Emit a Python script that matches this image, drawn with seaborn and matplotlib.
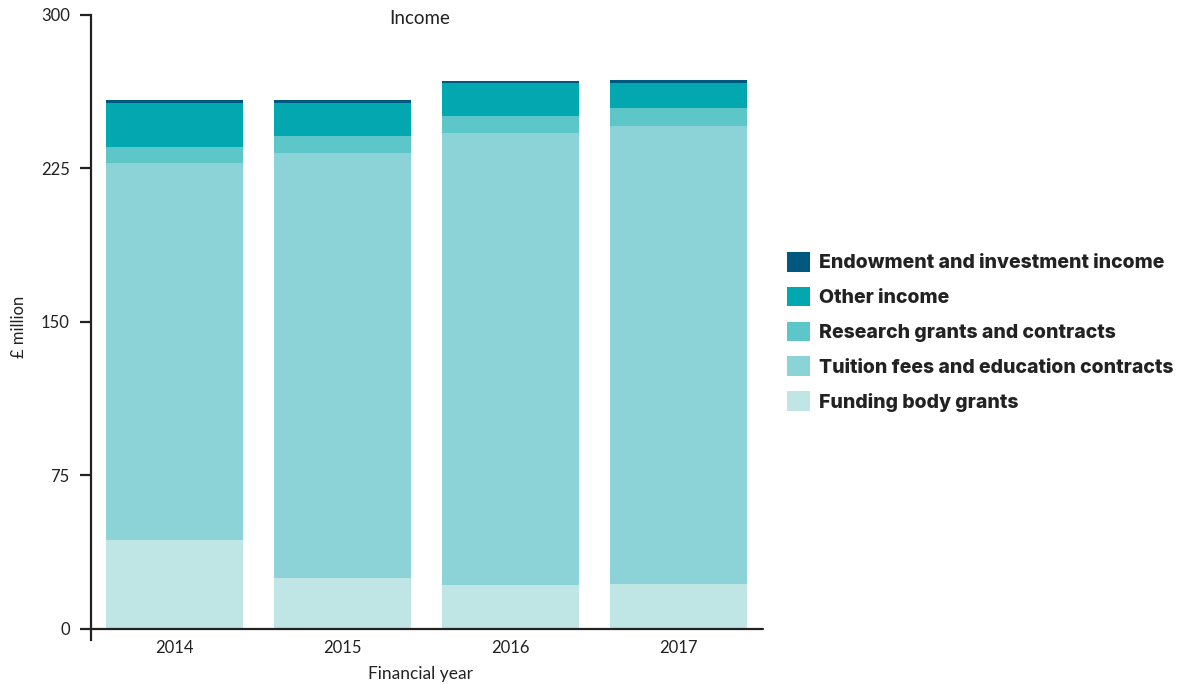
import matplotlib
matplotlib.use("Agg")
import matplotlib.pyplot as plt
from matplotlib.patches import Patch
import seaborn as sns
import numpy as np

# Income by source, £ million
years = ["2014", "2015", "2016", "2017"]
funding_body_grants = [43.2, 24.6, 21.2, 21.7]
tuition_fees = [184.3, 207.8, 221.0, 223.9]
research_grants = [7.8, 8.3, 8.3, 8.8]
other_income = [21.6, 16.2, 16.1, 12.2]
endowment_income = [1.5, 1.5, 1.0, 1.5]

series_names = [
    "Funding body grants",
    "Tuition fees and education contracts",
    "Research grants and contracts",
    "Other income",
    "Endowment and investment income",
]
series_values = [funding_body_grants, tuition_fees, research_grants,
                 other_income, endowment_income]
series_colors = ["#c0e5e5", "#8cd3d7", "#5dc6c9", "#03a7b0", "#00587f"]

y_ticks = [0, 75, 150, 225, 300]

sns.set_theme(style="white")
plt.rcParams["font.family"] = ["Lato", "DejaVu Sans"]

ink = "#222222"
fig = plt.figure(figsize=(11.84, 6.84), dpi=100)
ax = fig.add_axes([90.5 / 1184, 44 / 684, 672 / 1184, (640 - 14.7) / 684])

# Stacked bars: draw cumulative totals from the top layer down
cumulative = np.cumsum(np.array(series_values), axis=0)
for i in range(len(series_names) - 1, -1, -1):
    sns.barplot(x=years, y=cumulative[i], color=series_colors[i],
                saturation=1, width=0.815, linewidth=0, ax=ax)

ax.set_xlim(-0.5, 3.5)
ax.set_ylim(-5.6, 300)
ax.set_yticks(y_ticks)
ax.set_yticklabels([str(t) for t in y_ticks])

for side in ["top", "right", "bottom"]:
    ax.spines[side].set_visible(False)
ax.spines["left"].set_color(ink)
ax.spines["left"].set_linewidth(1.6)
ax.axhline(0, color=ink, linewidth=1.6, zorder=5, clip_on=False)

ax.tick_params(axis="y", which="both", left=True, length=8, width=1.6,
               color=ink, pad=7, labelsize=12, labelcolor=ink)
ax.tick_params(axis="x", which="both", bottom=False, length=0, pad=0,
               labelsize=12, labelcolor=ink)
ax.set_xlabel("")
ax.set_ylabel("£ million", fontsize=12, color=ink, labelpad=10)

fig.text(420 / 1184, 1 - 19 / 684, "Income", ha="center", va="center",
         fontsize=13.5, color=ink)
fig.text(420 / 1184, 1 - 674 / 684, "Financial year", ha="center",
         va="center", fontsize=12.5, color=ink)

handles = [Patch(facecolor=series_colors[i], edgecolor="none",
                 label=series_names[i])
           for i in range(len(series_names) - 1, -1, -1)]
leg = fig.legend(handles=handles, loc="upper left",
                 bbox_to_anchor=(781 / 1184, 1 - 246 / 684),
                 frameon=False, handlelength=1.19,
                 handleheight=1.19, handletextpad=0.45, labelspacing=0.74,
                 borderaxespad=0, borderpad=0.3,
                 prop={"family": ["Inter", "DejaVu Sans"],
                       "weight": "heavy", "size": 14})
for t in leg.get_texts():
    t.set_color(ink)

fig.savefig("out.png", dpi=100)
